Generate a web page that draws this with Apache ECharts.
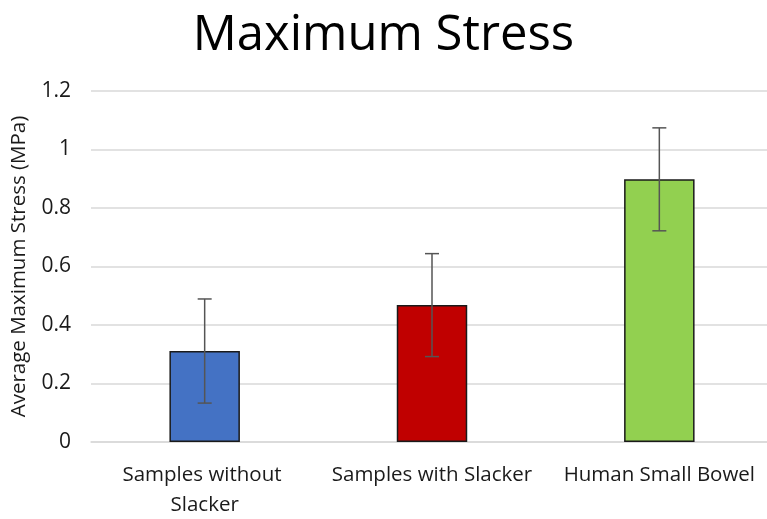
<!DOCTYPE html>
<html><head><meta charset="utf-8">
<script src="https://cdn.jsdelivr.net/npm/echarts@6/dist/echarts.min.js"></script>
<style>html,body{margin:0;padding:0;background:#fff}#c{width:767px;height:519px}</style>
</head><body><div id="c"></div>
<script>
const categories = ['Samples without Slacker', 'Samples with Slacker', 'Human Small Bowel'];
const meanStress = [0.311, 0.468, 0.898];
const errorStress = [0.178, 0.176, 0.176];
const barColors = ['#4472C4', '#C00000', '#92D050'];
const yTicks = [0, 0.2, 0.4, 0.6, 0.8, 1, 1.2];

const chart = echarts.init(document.getElementById('c'));
const FONT = 'Open Sans';
chart.setOption({
  animation: false,
  title: {
    text: 'Maximum Stress', left: 'center', top: 7,
    textStyle: {fontFamily: FONT, fontSize: 49, fontWeight: 'normal', color: '#000'}
  },
  grid: {left: 91, right: -6, top: 91, bottom: 77, outerBoundsMode: 'none', containLabel: false},
  xAxis: {
    type: 'category', data: categories,
    axisLine: {lineStyle: {color: '#d9d9d9', width: 1.5}},
    axisTick: {show: false},
    axisLabel: {fontFamily: FONT, fontSize: 20.5, color: '#1a1a1a', margin: 18, interval: 0,
      width: 205, overflow: 'break', lineHeight: 30}
  },
  yAxis: {
    type: 'value', min: 0, max: 1.2, interval: 0.2,
    name: 'Average Maximum Stress (MPa)', nameLocation: 'middle', nameGap: 61,
    nameTextStyle: {fontFamily: FONT, fontSize: 20.5, color: '#1a1a1a'},
    axisLabel: {fontFamily: FONT, fontSize: 21, color: '#1a1a1a', margin: 20,
      formatter: v => { const t = yTicks.find(x => Math.abs(x - v) < 1e-9); return t === undefined ? '' : String(t); }},
    splitLine: {lineStyle: {color: '#d9d9d9', width: 1.5}},
    axisLine: {show: false}, axisTick: {show: false}
  },
  series: [
    {
      type: 'bar', barWidth: '31%',
      data: meanStress.map((v, i) => ({value: v, itemStyle: {color: barColors[i]}})),
      itemStyle: {borderColor: '#1a1a1a', borderWidth: 1.5}
    },
    {
      type: 'custom', z: 10,
      data: meanStress.map((v, i) => [i, v - errorStress[i], v + errorStress[i]]),
      renderItem: (params, api) => {
        const lo = api.coord([api.value(0), api.value(1)]);
        const hi = api.coord([api.value(0), api.value(2)]);
        const w = 7;
        const st = {stroke: '#555', lineWidth: 1.5};
        return {type: 'group', children: [
          {type: 'line', shape: {x1: hi[0], y1: hi[1], x2: lo[0], y2: lo[1]}, style: st},
          {type: 'line', shape: {x1: hi[0] - w, y1: hi[1], x2: hi[0] + w, y2: hi[1]}, style: st},
          {type: 'line', shape: {x1: lo[0] - w, y1: lo[1], x2: lo[0] + w, y2: lo[1]}, style: st}
        ]};
      }
    }
  ]
});
</script></body></html>
